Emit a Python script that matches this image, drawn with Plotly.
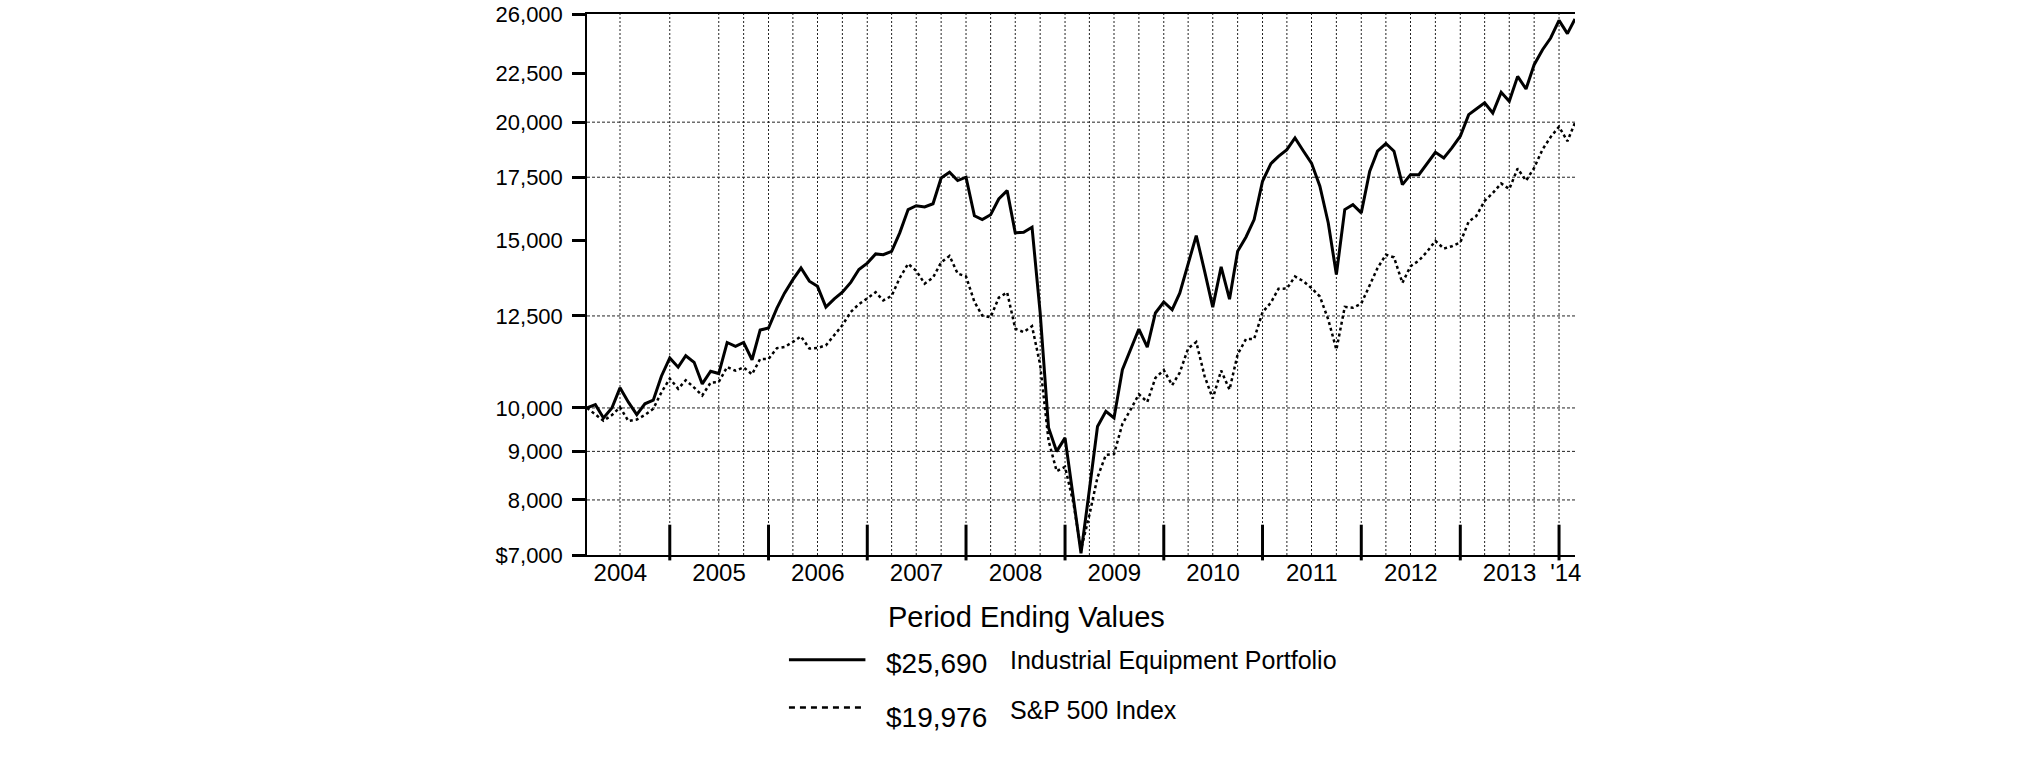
import plotly.graph_objects as go
import pandas as pd

# ---------------- data ----------------
months = pd.date_range("2004-02-29", periods=121, freq="ME")

portfolio = [10000, 10080, 9760, 10000, 10500, 10140, 9840, 10100, 10190, 10800,
             11290, 11040, 11350, 11170, 10600, 10930, 10870, 11720, 11610, 11720,
             11240, 12080, 12140, 12740, 13210, 13650, 14040, 13600, 13430, 12770,
             13030, 13240, 13560, 13990, 14210, 14530, 14500, 14620, 15290, 16180,
             16330, 16280, 16410, 17470, 17710, 17360, 17500, 15940, 15790, 15980,
             16600, 16940, 15290, 15310, 15500, 12600, 9530, 9000, 9300, 8010,
             7030, 8200, 9560, 9920, 9760, 10970, 11520, 12110, 11590, 12590,
             12930, 12690, 13210, 14210, 15190, 13930, 12770, 14080, 13020, 14620,
             15140, 15790, 17330, 18090, 18410, 18710, 19250, 18650, 18110, 17120,
             15660, 13820, 16180, 16370, 16050, 17750, 18640, 18990, 18640, 17190,
             17610, 17610, 18110, 18590, 18340, 18790, 19330, 20370, 20650, 20960,
             20450, 21500, 21040, 22350, 21680, 22990, 23840, 24530, 25600, 24790,
             25690]

sp500 = [10000, 9849, 9694, 9827, 10018, 9686, 9725, 9830, 9980, 10385,
         10738, 10476, 10696, 10507, 10307, 10635, 10650, 11046, 10945, 11034,
         10850, 11260, 11263, 11562, 11593, 11737, 11894, 11551, 11567, 11639,
         11916, 12223, 12622, 12862, 13042, 13239, 12979, 13124, 13706, 14184,
         13949, 13517, 13720, 14233, 14459, 13855, 13759, 12934, 12513, 12459,
         13066, 13236, 12120, 12018, 12192, 11106, 9241, 8578, 8669, 7938,
         7093, 7714, 8452, 8925, 8943, 9619, 9967, 10338, 10146, 10755,
         10962, 10568, 10895, 11552, 11734, 10797, 10232, 10949, 10455, 11388,
         11821, 11822, 12612, 12911, 13354, 13359, 13755, 13600, 13373, 13102,
         12390, 11519, 12778, 12750, 12880, 13457, 14038, 14500, 14409, 13543,
         14101, 14297, 14619, 14996, 14719, 14804, 14939, 15713, 15927, 16524,
         16843, 17237, 17006, 17872, 17354, 17899, 18722, 19293, 19781, 19097,
         19976]

y_ticks = [7000, 8000, 9000, 10000, 12500, 15000, 17500, 20000, 22500, 26000]
y_tick_text = ["$7,000", "8,000", "9,000", "10,000", "12,500", "15,000",
               "17,500", "20,000", "22,500", "26,000"]
y_grid = [8000, 9000, 10000, 12500, 17500, 20000]

year_label_pos = ["2004-07-01", "2005-07-01", "2006-07-01", "2007-07-01",
                  "2008-07-01", "2009-07-01", "2010-07-01", "2011-07-01",
                  "2012-07-01", "2013-07-01", "2014-01-25"]
year_labels = ["2004", "2005", "2006", "2007", "2008", "2009", "2010",
               "2011", "2012", "2013", "'14"]
year_ends = [f"{y}-12-31" for y in range(2004, 2014)]
x_grid = ["2004-06-30", "2004-12-31", "2005-06-30", "2005-09-30", "2005-12-31"] + \
    [d.strftime("%Y-%m-%d") for d in pd.date_range("2006-03-31", "2013-12-31", freq="QE")]

legend_names = ["Industrial Equipment Portfolio", "S&P 500 Index"]
legend_values = ["$25,690", "$19,976"]

FONT = "Liberation Sans, Arial, sans-serif"

# ---------------- figure ----------------
fig = go.Figure()

fig.add_trace(go.Scatter(x=months, y=sp500, mode="lines", name=legend_names[1],
                         line=dict(color="black", width=2.5, dash="3px,3px")))
fig.add_trace(go.Scatter(x=months, y=portfolio, mode="lines", name=legend_names[0],
                         line=dict(color="black", width=3)))

# horizontal dotted grid
for v in y_grid:
    fig.add_shape(type="line", xref="paper", yref="y", x0=0, x1=1, y0=v, y1=v,
                  line=dict(color="#222", width=1, dash="3px,2px"), layer="below")
# vertical dotted grid
for d in x_grid:
    fig.add_shape(type="line", xref="x", yref="paper", x0=d, x1=d, y0=0, y1=1,
                  line=dict(color="#222", width=1, dash="2px,2px"), layer="below")
# thick year-end ticks
for d in year_ends:
    fig.add_shape(type="line", xref="x", yref="paper", x0=d, x1=d, y0=-0.01, y1=0.056,
                  line=dict(color="black", width=3), layer="above")

fig.update_layout(
    width=2025, height=761,
    margin=dict(l=587, r=450, t=14, b=206, autoexpand=False),
    paper_bgcolor="white", plot_bgcolor="white",
    showlegend=False,
    font=dict(family=FONT, color="black"),
    xaxis=dict(
        type="date", automargin=False,
        range=["2004-02-29", "2014-02-28"],
        tickvals=year_label_pos, ticktext=year_labels,
        ticks="", showgrid=False, zeroline=False,
        showline=True, linecolor="black", linewidth=1.5, mirror=True,
        tickfont=dict(size=24, family=FONT, color="black"),
        ticklabelstandoff=-5,
    ),
    yaxis=dict(
        type="log", automargin=False,
        range=[3.845098, 4.414973],
        tickvals=y_ticks, ticktext=y_tick_text,
        ticks="outside", ticklen=13, tickwidth=3, tickcolor="black",
        showgrid=False, zeroline=False,
        showline=True, linecolor="black", linewidth=1.5,
        tickfont=dict(size=22, family=FONT, color="black"),
        ticklabelstandoff=5, ticklabeloverflow="allow",
    ),
)

# title of legend block
fig.add_annotation(text="Period Ending Values", xref="paper", yref="paper",
                   x=0.4445, y=-0.114, xanchor="center", yanchor="middle",
                   showarrow=False, font=dict(size=29, family=FONT, color="black"))

# legend rows: (line y, line style, value y, name y)
rows = [(-0.1935, dict(color="black", width=3), -0.201, -0.195),
        (-0.282, dict(color="black", width=2.5, dash="6px,5px"), -0.301, -0.286)]
for (ly, lstyle, vy, ny), val, name in zip(rows, legend_values, legend_names):
    fig.add_shape(type="line", xref="paper", yref="paper", x0=0.2044, x1=0.2818,
                  y0=ly, y1=ly, line=lstyle)
    fig.add_annotation(text=val, xref="paper", yref="paper", x=0.3008, y=vy,
                       xanchor="left", yanchor="middle", showarrow=False,
                       font=dict(size=28, family=FONT, color="black"))
    fig.add_annotation(text=name, xref="paper", yref="paper", x=0.4265, y=ny,
                       xanchor="left", yanchor="middle", showarrow=False,
                       font=dict(size=25, family=FONT, color="black"))

# remove the browser's default 8px page margin so the figure sits at (0, 0)
fig.write_html("out.html", config={"displayModeBar": False},
               post_script="document.body.style.margin='0';")
